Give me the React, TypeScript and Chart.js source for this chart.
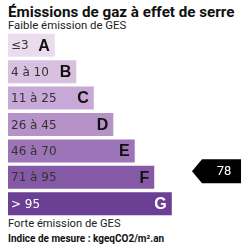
import React, { useEffect, useRef } from "react";
import { Chart, registerables } from "chart.js";

Chart.register(...registerables);

const grades = ["A", "B", "C", "D", "E", "F", "G"];
const ranges = ["≤3", "4 à 10", "11 à 25", "26 à 45", "46 à 70", "71 à 95", "> 95"];
const barLengths = [2.4, 3.5, 4.4, 5.4, 6.5, 7.5, 8.4];
const barColors = ["#eadcec", "#d9c0e0", "#c8a8d6", "#b692c8", "#9d74b7", "#8659a6", "#6b3f93"];
const textColors = ["#333", "#333", "#333", "#333", "#333", "#333", "#fff"];
const letterColors = ["#111", "#111", "#111", "#111", "#111", "#111", "#fff"];
const indexValue = 78;
const indexGrade = "F";

const title = "Émissions de gaz à effet de serre";
const topNote = "Faible émission de GES";
const bottomNote = "Forte émission de GES";
const unitNote = "Indice de mesure : kgeqCO2/m².an";

const labelPlugin = {
  id: "gesLabels",
  afterDatasetsDraw(chart: any) {
    const ctx = chart.ctx;
    const meta = chart.getDatasetMeta(0);
    ctx.save();
    meta.data.forEach((bar: any, i: number) => {
      const left = bar.base;
      const right = bar.x;
      const y = bar.y;
      ctx.textBaseline = "middle";
      ctx.textAlign = "left";
      ctx.fillStyle = textColors[i];
      ctx.font = "12px 'DejaVu Sans'";
      ctx.fillText(ranges[i], left + 3, y + 1);
      ctx.textAlign = "right";
      ctx.fillStyle = letterColors[i];
      ctx.font = "bold 16px 'Liberation Sans'";
      ctx.fillText(grades[i], right - 5, y + 1);
    });
    // index arrow
    const yScale = chart.scales.y;
    const idx = grades.indexOf(indexGrade);
    const cy = yScale.getPixelForValue(idx) - 6;
    const right = chart.chartArea.right - 1;
    const tip = right - 49;
    const h = 12;
    ctx.fillStyle = "#000";
    ctx.beginPath();
    ctx.moveTo(tip, cy);
    ctx.lineTo(tip + 10, cy - h);
    ctx.lineTo(right, cy - h);
    ctx.lineTo(right, cy + h);
    ctx.lineTo(tip + 10, cy + h);
    ctx.closePath();
    ctx.fill();
    ctx.fillStyle = "#fff";
    ctx.font = "13px Roboto";
    ctx.textAlign = "center";
    ctx.textBaseline = "middle";
    ctx.fillText(String(indexValue), right - 17, cy);
    ctx.restore();
  },
};

export default function App() {
  const ref = useRef<HTMLCanvasElement | null>(null);
  useEffect(() => {
    if (!ref.current) return;
    const chart = new Chart(ref.current, {
      type: "bar",
      data: {
        labels: grades,
        datasets: [
          {
            data: barLengths,
            backgroundColor: barColors,
            borderWidth: 0,
            barPercentage: 0.87,
            categoryPercentage: 1,
          },
        ],
      },
      options: {
        indexAxis: "y",
        animation: false,
        responsive: false,
        maintainAspectRatio: false,
        layout: { padding: 0 },
        plugins: {
          legend: { display: false },
          tooltip: { enabled: false },
          title: { display: false },
        },
        scales: {
          x: { display: false, min: 0, max: 12 },
          y: { display: false },
        },
      },
      plugins: [labelPlugin],
    });
    return () => chart.destroy();
  }, []);

  return (
    <div
      style={{
        position: "absolute",
        left: 0,
        top: 0,
        width: 250,
        height: 250,
        background: "#fff",
        fontFamily: "Roboto, sans-serif",
        color: "#111",
      }}
    >
      <div style={{ position: "absolute", left: 8, top: 2, fontSize: 15.2, fontWeight: 700, whiteSpace: "nowrap", lineHeight: "20px" }}>
        {title}
      </div>
      <div style={{ position: "absolute", left: 8, top: 18, fontSize: 11.4, whiteSpace: "nowrap", lineHeight: "14px", color: "#222" }}>
        {topNote}
      </div>
      <canvas
        ref={ref}
        width={234}
        height={185}
        style={{ position: "absolute", left: 8, top: 32, width: 234, height: 185 }}
      />
      <div style={{ position: "absolute", left: 8, top: 217, fontSize: 11.2, whiteSpace: "nowrap", lineHeight: "14px", color: "#222" }}>
        {bottomNote}
      </div>
      <div style={{ position: "absolute", left: 8, top: 232, fontSize: 10, fontWeight: 700, whiteSpace: "nowrap", lineHeight: "13px" }}>
        {unitNote}
      </div>
    </div>
  );
}
